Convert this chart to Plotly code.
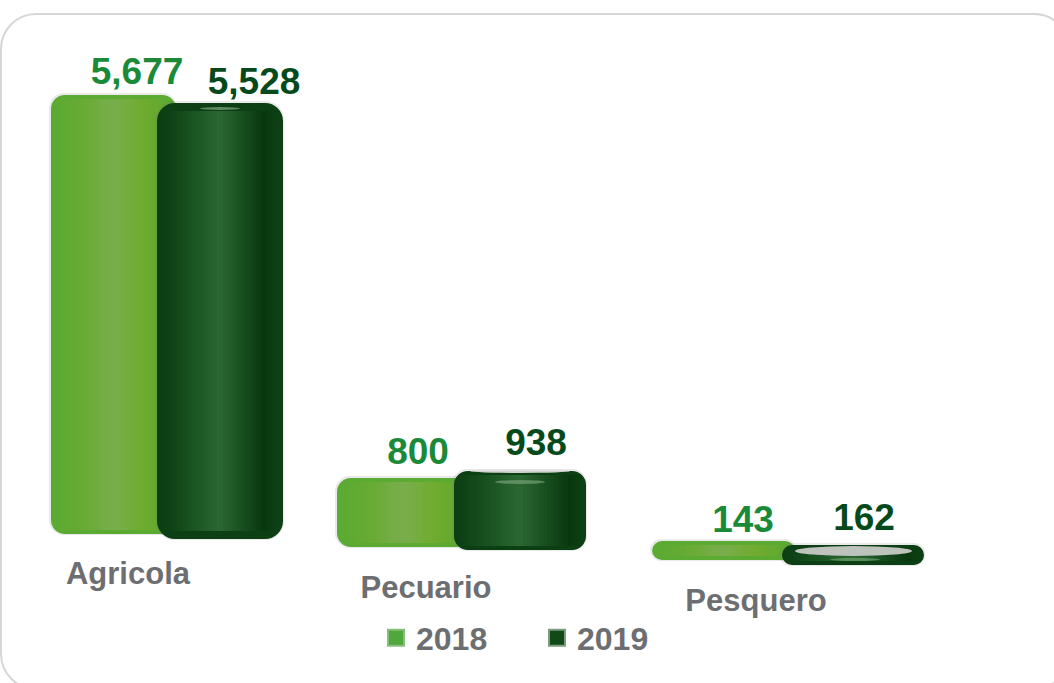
import numpy as np
import plotly.graph_objects as go

# ---- data ----
categories = ["Agricola", "Pecuario", "Pesquero"]
series_names = ["2018", "2019"]
values_2018 = [5677, 800, 143]
values_2019 = [5528, 938, 162]

# ---- layout (pixels of the 1054x683 page; axes are set up so x is 1:1) ----
W, H = 1054, 683
PX_PER_UNIT = 0.0759
Y_ZERO_PX = 530


def y_of(px):
    return (Y_ZERO_PX - px) / PX_PER_UNIT


left_2018 = [51, 337, 652]
right_2018 = [176, 470, 795]
bottom_2018 = [530, 543, 556]
rim_2018 = [8, 8, 8]
left_2019 = [157, 454, 782]
right_2019 = [283, 586, 924]
bottom_2019 = [531, 546, 561]
rim_2019 = [16, 8, 8]

label_x_2018 = [137, 418, 743]
label_px_2018 = [75, 455, 523]
label_x_2019 = [254, 536, 864]
label_px_2019 = [85, 446, 521]
cat_x = [128, 426, 756]
cat_px = [576, 590, 603]

C_2018 = "#1a8a38"
C_2019 = "#064a1c"
C_GREY = "#6d6e71"
FONT = "Liberation Sans"

stops_pos = [0, .12, .3, .5, .75, .9, 1]
stops_2018 = [(91, 171, 51), (98, 170, 50), (108, 172, 56), (122, 174, 78), (112, 172, 46), (100, 170, 48), (91, 171, 51)]
stops_2019 = [(13, 63, 20), (18, 72, 26), (28, 88, 36), (44, 104, 50), (20, 74, 28), (10, 56, 14), (13, 63, 20)]
N_STRIPS = 36


def color_at(stops, t):
    c = [np.interp(t, stops_pos, [s[i] for s in stops]) for i in range(3)]
    return "rgb(%d,%d,%d)" % tuple(c)


fig = go.Figure()


def add_series(name, values, left, right, bottom, rim, rim_color, stops):
    bases = [y_of(b) for b in bottom]
    left_in = np.array(left) + np.array(rim) / 2
    right_in = np.array(right) - np.array(rim) / 2
    # soft halo
    fig.add_trace(go.Bar(
        x=(left_in + right_in) / 2, y=values, base=bases, width=right_in - left_in,
        marker=dict(color="rgba(0,0,0,0)", cornerradius=10,
                    line=dict(color="rgba(120,120,120,0.16)", width=[r + 3 for r in rim])),
        showlegend=False, hoverinfo="skip"))
    # body with rounded rim
    fig.add_trace(go.Bar(
        x=(left_in + right_in) / 2, y=values, base=bases, width=right_in - left_in,
        marker=dict(color=rim_color, cornerradius=10, line=dict(color=rim_color, width=rim)),
        showlegend=False, hoverinfo="skip"))
    # cylinder shading, as thin slices of the same bars
    for k in range(N_STRIPS):
        t0, t1 = k / N_STRIPS, (k + 1) / N_STRIPS
        xs = left_in + (right_in - left_in) * (t0 + t1) / 2
        ws = (right_in - left_in) * (t1 - t0) + 0.6
        fig.add_trace(go.Bar(
            x=xs, y=values, base=bases, width=ws,
            marker=dict(color=color_at(stops, (t0 + t1) / 2), line=dict(width=0)),
            showlegend=False, hoverinfo="skip"))


add_series("2018", values_2018, left_2018, right_2018, bottom_2018, rim_2018, "#5bab33", stops_2018)
add_series("2019", values_2019, left_2019, right_2019, bottom_2019, rim_2019, "#0d3f14", stops_2019)

# value labels
fig.add_trace(go.Scatter(
    x=label_x_2018, y=[y_of(p) for p in label_px_2018], mode="text",
    text=[f"{v:,}" for v in values_2018],
    textfont=dict(family=FONT, size=37, color=C_2018, weight="bold"),
    textposition="middle center", showlegend=False, hoverinfo="skip"))
fig.add_trace(go.Scatter(
    x=label_x_2019, y=[y_of(p) for p in label_px_2019], mode="text",
    text=[f"{v:,}" for v in values_2019],
    textfont=dict(family=FONT, size=37, color=C_2019, weight="bold"),
    textposition="middle center", showlegend=False, hoverinfo="skip"))

# category labels
fig.add_trace(go.Scatter(
    x=cat_x, y=[y_of(p) for p in cat_px], mode="text", text=categories,
    textfont=dict(family=FONT, size=31, color=C_GREY, weight="bold"),
    textposition="middle center", showlegend=False, hoverinfo="skip"))

# legend entries
for name, col, edge in [(series_names[0], "#4fa83c", "#86bf7a"), (series_names[1], "#0f4a18", "#7c9c80")]:
    fig.add_trace(go.Scatter(
        x=[None], y=[None], mode="markers", name=name,
        marker=dict(symbol="square", size=16, color=col, line=dict(color=edge, width=2))))


def corner_path(x0, y0, x1, y1, r):
    k = r * 0.448
    return (f"M{x0 + r},{y_of(y0)} L{x1 - r},{y_of(y0)} "
            f"C{x1 - k},{y_of(y0)} {x1},{y_of(y0 + k)} {x1},{y_of(y0 + r)} "
            f"L{x1},{y_of(y1 - r)} C{x1},{y_of(y1 - k)} {x1 - k},{y_of(y1)} {x1 - r},{y_of(y1)} "
            f"L{x0 + r},{y_of(y1)} C{x0 + k},{y_of(y1)} {x0},{y_of(y1 - k)} {x0},{y_of(y1 - r)} "
            f"L{x0},{y_of(y0 + r)} C{x0},{y_of(y0 + k)} {x0 + k},{y_of(y0)} {x0 + r},{y_of(y0)} Z")


shapes = [dict(type="path", path=corner_path(1, 14, 1069, 689, 35), xref="x", yref="y",
               line=dict(color="#d6d6d6", width=2), layer="below")]
# cap highlights and the pale top faces of the dark bars
for x0, x1, p0, p1, col in [
    (200, 240, 107, 110, "rgba(130,170,130,0.7)"),
    (495, 545, 480, 484, "rgba(130,170,130,0.6)"),
    (470, 570, 469, 473, "rgba(225,225,225,0.9)"),
    (795, 912, 546, 556, "rgba(190,195,190,1)"),
    (830, 880, 558, 561, "rgba(110,160,110,0.7)"),
]:
    shapes.append(dict(type="circle", x0=x0, x1=x1, y0=y_of(p0), y1=y_of(p1), xref="x", yref="y",
                       fillcolor=col, line=dict(width=0), layer="above"))

fig.update_layout(
    width=W, height=H, autosize=False,
    margin=dict(l=0, r=0, t=0, b=0),
    paper_bgcolor="white", plot_bgcolor="white",
    barmode="overlay", bargap=0,
    xaxis=dict(range=[0, W], visible=False, fixedrange=True),
    yaxis=dict(range=[y_of(H), y_of(0)], visible=False, fixedrange=True),
    shapes=shapes,
    showlegend=True,
    legend=dict(orientation="h", x=376 / W, xanchor="left", y=1 - 638 / H, yanchor="middle",
                font=dict(family=FONT, size=32, color=C_GREY, weight="bold"),
                itemsizing="trace", entrywidth=116, entrywidthmode="pixels", itemwidth=30,
                bgcolor="rgba(0,0,0,0)", traceorder="normal"),
)
fig.write_html("out.html", config={"displayModeBar": False},
               post_script="document.body.style.margin='0';document.body.style.overflow='hidden';")
